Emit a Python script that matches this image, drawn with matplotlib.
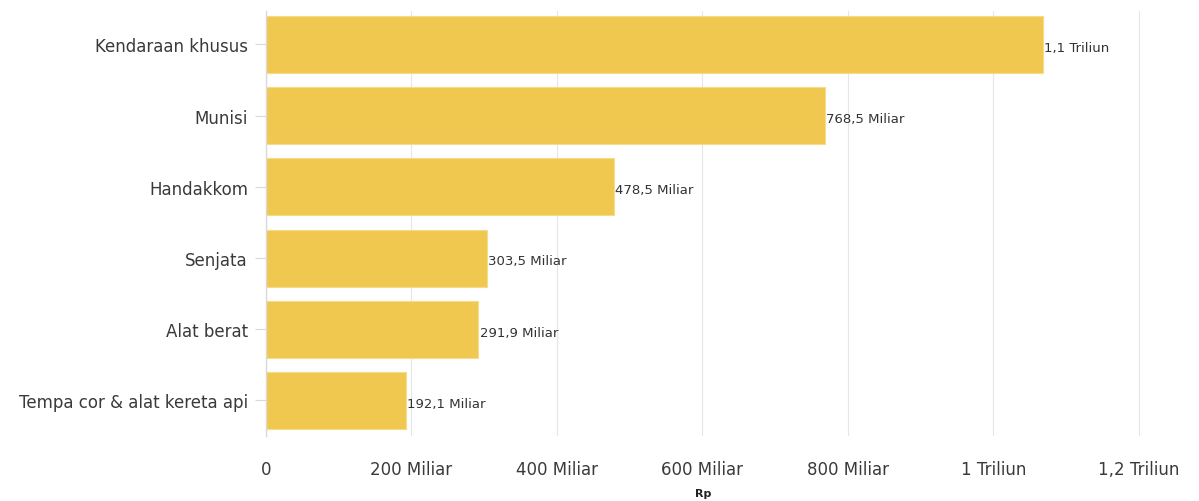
import matplotlib.pyplot as plt

categories = ["Kendaraan khusus", "Munisi", "Handakkom", "Senjata", "Alat berat",
              "Tempa cor & alat kereta api"]
values = [1068, 768.5, 478.5, 303.5, 291.9, 192.1]  # Miliar Rp
value_labels = ["1,1 Triliun", "768,5 Miliar", "478,5 Miliar", "303,5 Miliar",
                "291,9 Miliar", "192,1 Miliar"]
xticks = [0, 200, 400, 600, 800, 1000, 1200]
xtick_labels = ["0", "200 Miliar", "400 Miliar", "600 Miliar", "800 Miliar",
                "1 Triliun", "1,2 Triliun"]

fig = plt.figure(figsize=(11.99, 5.02), dpi=100)
ax = fig.add_axes([266 / 1199, 1 - 437 / 502, (1141 - 266) / 1199, (437 - 12) / 502])

ypos = range(len(categories))
ax.barh(ypos, values, height=0.8, color="#f0c850", edgecolor="#f5dc8c", linewidth=0.8, zorder=2)
for y, v, lab in zip(ypos, values, value_labels):
    ax.text(v + 2, y + 0.04, lab, va="center", ha="left", fontsize=9.5, color="#333333", zorder=3)

ax.set_ylim(5.5, -0.47)
ax.set_xlim(0, 1203)
ax.set_yticks(list(ypos))
ax.set_yticklabels(categories, fontsize=12, color="#3a3a3a")
ax.set_xticks(xticks)
ax.set_xticklabels(xtick_labels, fontsize=12, color="#3a3a3a")
ax.tick_params(axis="y", length=8, color="#d9d9d9", pad=5)
ax.tick_params(axis="x", length=0, pad=17)
ax.grid(axis="x", color="#e6e6e6", linewidth=0.8, zorder=0)
for s in ["top", "right", "bottom"]:
    ax.spines[s].set_visible(False)
ax.spines["left"].set_color("#d9d9d9")
ax.spines["left"].set_linewidth(1)

fig.text(703 / 1199, 1 - 494 / 502, "Rp", fontsize=8, fontweight="bold", color="#222222",
         ha="center", va="center")

fig.savefig("out.png", dpi=100, facecolor="white")
